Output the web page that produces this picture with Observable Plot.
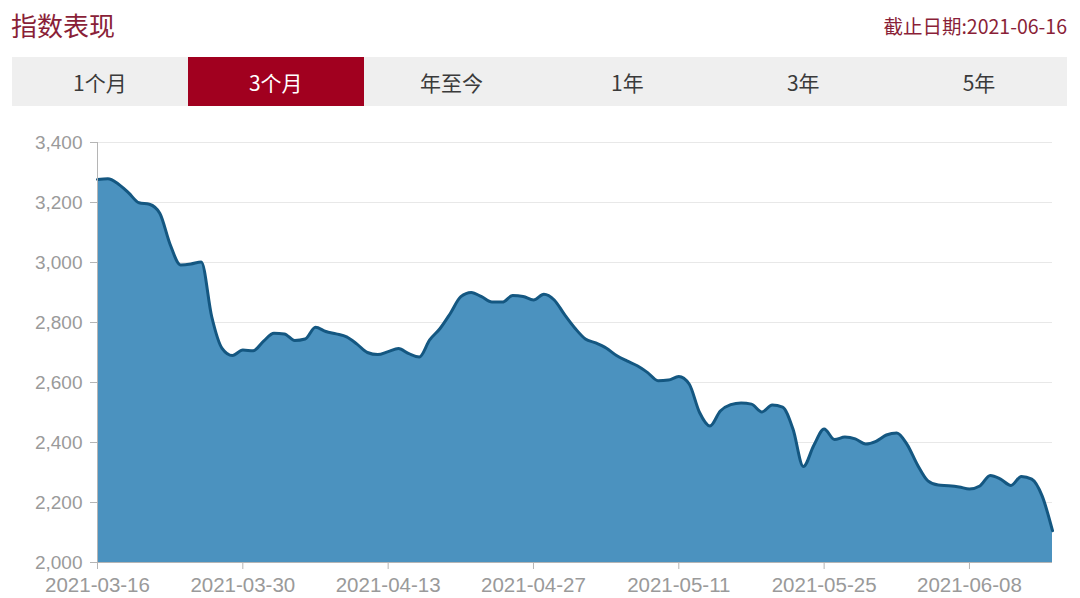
<!DOCTYPE html>
<html>
<head>
<meta charset="utf-8">
<script src="https://cdn.jsdelivr.net/npm/d3@7"></script>
<script src="https://cdn.jsdelivr.net/npm/@observablehq/plot@0.6"></script>
<style>
  html, body { margin: 0; padding: 0; background: #fff; }
  body { width: 1080px; height: 598px; position: relative; overflow: hidden; font-family: "Noto Sans CJK SC", "Open Sans", sans-serif; }
  #title { position: absolute; left: 11px; top: 8px; font-size: 26px; line-height: 33px; color: #8a1f38; }
  #asof { position: absolute; right: 13px; top: 12px; font-size: 19.5px; line-height: 28px; color: #8a1f38; }
  #tabs { position: absolute; left: 12px; top: 57px; width: 1055px; height: 49px; display: flex; background: #efefef; }
  #tabs div { flex: 1; display: flex; align-items: center; justify-content: center; font-size: 21px; color: #3a3a3a; }
  #tabs div.sel { background: #a1001f; color: #fff; }
  #chart { position: absolute; left: 0; top: 112px; }
</style>
</head>
<body>
<div id="title"></div>
<div id="asof"></div>
<div id="tabs"></div>
<div id="chart"></div>
<script>
const titleText = "指数表现";
const asOfText = "截止日期:2021-06-16";
const tabLabels = ["1个月", "3个月", "年至今", "1年", "3年", "5年"];
const selectedTab = "3个月";

const startDate = "2021-03-16";
const endDate = "2021-06-16";
// index level, one per calendar day from startDate to endDate
const values = [
  3277, 3279, 3262, 3232, 3199, 3194, 3164, 3060, 2992, 2995,
  3002, 2820, 2714, 2690, 2708, 2706, 2738, 2764, 2762, 2740,
  2745, 2784, 2770, 2762, 2752, 2728, 2700, 2693, 2703, 2713,
  2696, 2685, 2742, 2780, 2831, 2886, 2900, 2886, 2868, 2868,
  2890, 2887, 2875, 2894, 2875, 2826, 2781, 2745, 2732, 2715,
  2690, 2672, 2656, 2633, 2606, 2608, 2620, 2595, 2500, 2455,
  2505, 2526, 2532, 2528, 2502, 2525, 2518, 2445, 2320, 2390,
  2445, 2410, 2418, 2412, 2395, 2404, 2425, 2432, 2393, 2325,
  2272, 2258, 2256, 2252, 2245, 2255, 2290, 2278, 2257, 2287,
  2278, 2222, 2106
];
const yTicks = [2000, 2200, 2400, 2600, 2800, 3000, 3200, 3400];
const xTickLabels = ["2021-03-16", "2021-03-30", "2021-04-13", "2021-04-27", "2021-05-11", "2021-05-25", "2021-06-08"];

document.getElementById("title").textContent = titleText;
document.getElementById("asof").textContent = asOfText;
const tabs = document.getElementById("tabs");
for (const t of tabLabels) {
  const el = document.createElement("div");
  el.textContent = t;
  if (t === selectedTab) el.className = "sel";
  tabs.appendChild(el);
}

const parse = d3.utcParse("%Y-%m-%d");
const days = d3.utcDay.range(parse(startDate), d3.utcDay.offset(parse(endDate), 1));
const data = days.map((date, i) => ({date, value: values[i]}));
const xTicks = xTickLabels.map(parse);
const yMin = yTicks[0];

const chart = Plot.plot({
  width: 1080,
  height: 486,
  marginTop: 30,
  marginBottom: 36,
  marginLeft: 97,
  marginRight: 28,
  style: {fontFamily: "'Liberation Sans', Arial, sans-serif", background: "transparent"},
  x: {type: "utc", domain: [parse(startDate), parse(endDate)]},
  y: {domain: [yTicks[0], yTicks[yTicks.length - 1]]},
  marks: [
    Plot.gridY(yTicks, {stroke: "#e8e8e8", strokeOpacity: 1}),
    Plot.areaY(data, {x: "date", y1: yMin, y2: "value", curve: "monotone-x", fill: "#4b92bf"}),
    Plot.lineY(data, {x: "date", y: "value", curve: "monotone-x", stroke: "#145781", strokeWidth: 3}),
    Plot.ruleX([parse(startDate)], {stroke: "#b5b5b5"}),
    Plot.ruleY([yMin], {stroke: "#b5b5b5"}),
    Plot.axisY({ticks: yTicks, tickFormat: d3.format(","), tickSize: 7, tickPadding: 8, fontSize: 19, color: "#9a9a9a", stroke: "#b5b5b5", label: null}),
    Plot.axisX({ticks: xTicks, tickFormat: d3.utcFormat("%Y-%m-%d"), tickSize: 7, tickPadding: 8, fontSize: 20.5, color: "#9a9a9a", stroke: "#b5b5b5", label: null})
  ]
});
document.getElementById("chart").appendChild(chart);
</script>
</body>
</html>
